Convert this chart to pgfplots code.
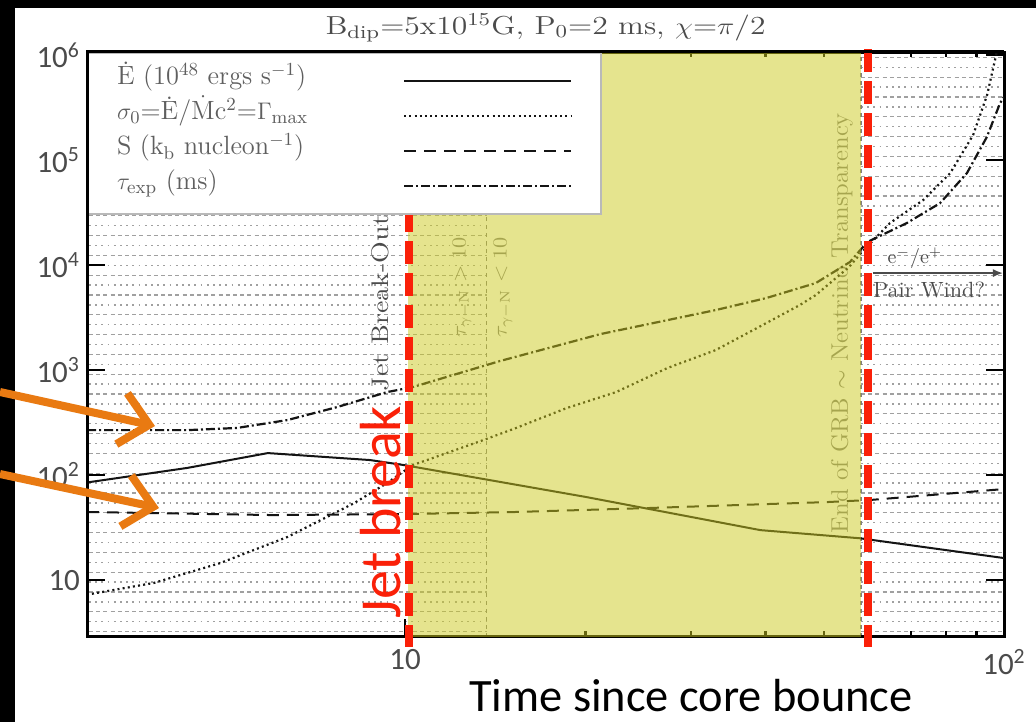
\documentclass[border=0pt]{standalone}
\usepackage{fontspec}
\usepackage{graphicx}
\usepackage{pgfplots}
\usepackage{pgfplotstable}
\pgfplotsset{compat=1.18}
\usetikzlibrary{arrows.meta}
\newfontfamily\calibri{Carlito}
\definecolor{yel}{RGB}{205,202,30}
\definecolor{redl}{RGB}{250,32,8}
\definecolor{orng}{RGB}{233,122,18}
\definecolor{txtg}{RGB}{75,75,75}
\definecolor{lgtxt}{RGB}{95,95,95}
\definecolor{lnk}{RGB}{20,20,20}
\definecolor{hatchc}{RGB}{160,160,160}
\newcommand\ws[1]{\addfontfeature{LetterSpace=#1}}
\newcommand\wide[2]{\resizebox{#1}{\height}{#2}}

\pgfplotstableread{
t v
2.944 85
4.33 117
5.9 162
8.74 139
10 124
20 62
39.2 29.9
57.5 25
100 16.2
}\tEdot

\pgfplotstableread{
t v
3.0 7.4
3.81 9.4
4.91 14.5
6.36 25.7
8.22 54
9.33 84
10.3 124.5
13.5 215
15.3 280
18.6 434
22.5 617
27.4 1045
33.0 1549
40.1 2806
45.6 4159
48.5 5180
55.1 9570
57.9 13300
64.5 25100
73.3 41600
81.3 75100
88.8 173000
93.7 416000
97.0 1000000
100 2000000
}\tSig

\pgfplotstableread{
t v
2.944 44.5
6 41.6
10 42.5
15.3 44.5
25.4 48.5
50.6 55.3
60 58
100 73.6
}\tS

\pgfplotstableread{
t v
2.944 268
4.33 268
5.24 281
6.36 334
7.70 444
9.33 617
10.3 689
14.4 1219
21.2 2203
33.0 3728
40.1 4853
48.5 6740
55.3 10690
59.1 16560
68.8 25100
78.2 38900
86.7 75100
93.6 165600
98.5 349000
100 400000
}\tTau

\begin{document}
\begin{tikzpicture}
\useasboundingbox (0,0) rectangle (518pt,-361pt);
\fill[white] (0,0) rectangle (518pt,-361pt);
\fill[black] (0,0) rectangle (7.5pt,-361pt);
\fill[black] (0,0) rectangle (518pt,-4pt);
% background hatching of the original figure
\foreach \k in {0,...,58}{
  \pgfmathsetmacro\yy{-318.25+2.45+4.95*\k}
  \ifodd\k
    \draw[hatchc, line width=0.7pt, dash pattern=on 0.9pt off 2.2pt] (44.5pt,\yy pt) -- (243.4pt,\yy pt) (430.5pt,\yy pt) -- (501pt,\yy pt);
  \else
    \draw[hatchc, line width=0.6pt, dash pattern=on 2pt off 1.6pt] (44.5pt,\yy pt) -- (243.4pt,\yy pt) (430.5pt,\yy pt) -- (501pt,\yy pt);
  \fi
}
\draw[gray, line width=0.6pt, dash pattern=on 2pt off 2pt] (243.4pt,-318.25pt) -- (243.4pt,-26pt);
\draw[gray, line width=0.6pt, dash pattern=on 2pt off 2pt] (430.5pt,-318.25pt) -- (430.5pt,-26pt);

\begin{axis}[
  at={(43.5pt,-318.25pt)}, anchor=south west,
  scale only axis, width=458.5pt, height=292.25pt,
  xmode=log, ymode=log,
  xmin=2.944, xmax=100, ymin=2.9, ymax=1.07e6,
  clip mode=individual,
  axis line style={line width=1.5pt, black},
  tick align=inside,
  tick style={line width=1.2pt, black},
  major tick length=9pt, minor tick length=2.6pt,
  yminorticks=false,
  xtick={10,100}, xticklabels={10,10\textsuperscript{2}},
  ytick={10,100,1000,10000,100000,1000000},
  yticklabels={10,10\textsuperscript{2},10\textsuperscript{3},10\textsuperscript{4},10\textsuperscript{5},10\textsuperscript{6}},
  tick label style={font=\calibri\fontsize{15.5}{18}\selectfont, text=txtg},
  xticklabel style={yshift=-3pt},
  title={\wide{220pt}{B\textsubscript{dip}=5x10\textsuperscript{15}G, P\textsubscript{0}=2 ms, $\chi$=$\pi$/2}},
  title style={at={(0.5,1)}, anchor=base, yshift=3pt, text=txtg, font=\fontsize{13}{15}\selectfont},
  legend style={at={(0,1)}, anchor=north west, draw=gray!55, line width=1pt, fill=white,
    inner xsep=14.5pt, inner ysep=5.25pt, row sep=0pt, column sep=0pt,
    nodes={inner sep=0pt, text height=10.5pt, text depth=7pt, font=\fontsize{13.2}{15}\selectfont\ws{18}, text=lgtxt}},
  legend plot pos=right,
  legend cell align=left,
  legend image code/.code={\draw[#1] (0pt,0pt) -- (83.5pt,0pt);},
]
% annotations of the original figure
\node[rotate=90, text=txtg, font=\fontsize{12}{14}\selectfont] at (axis cs:9.08,4345) {\wide{88pt}{Jet Break-Out}};
\node[rotate=90, text=gray, font=\fontsize{10}{12}\selectfont] at (axis cs:12.45,6170) {\wide{50pt}{$\tau_{\gamma-\mathrm{N}} > 10$}};
\node[rotate=90, text=gray, font=\fontsize{10}{12}\selectfont] at (axis cs:14.57,6170) {\wide{50pt}{$\tau_{\gamma-\mathrm{N}} < 10$}};
\node[rotate=90, text=gray, font=\fontsize{12}{14}\selectfont] at (axis cs:53.6,2805) {\wide{210pt}{End of GRB $\sim$ Neutrino Transparency}};
\node[text=txtg, font=\fontsize{10}{12}\selectfont] at (axis cs:71,11660) {e$^-$/e$^+$};
\draw[-{Latex[length=5pt,width=4pt]}, line width=0.8pt, txtg] (axis cs:60.4,8393) -- (axis cs:99.6,8393);
\node[text=txtg, font=\fontsize{11}{13}\selectfont] at (axis cs:74.97,5780) {\wide{56pt}{Pair Wind?}};

\addplot[lnk, line width=1pt] table {\tEdot};
\addlegendentry{\makebox[143pt][l]{\.{E} (10\textsuperscript{48} ergs s\textsuperscript{$-$1})}}
\addplot[lnk, line width=1.1pt, dash pattern=on 1pt off 1.6pt] table {\tSig};
\addlegendentry{\makebox[143pt][l]{$\sigma_0$=\.{E}/$\dot{\mathrm{M}}$c\textsuperscript{2}=$\Gamma_{\mathrm{max}}$}}
\addplot[lnk, line width=1pt, dash pattern=on 6pt off 4pt] table {\tS};
\addlegendentry{\makebox[143pt][l]{S (k\textsubscript{b} nucleon\textsuperscript{$-$1})}}
\addplot[lnk, line width=1.1pt, dash pattern=on 4.5pt off 1.5pt on 1pt off 1.5pt] table {\tTau};
\addlegendentry{\makebox[143pt][l]{$\tau_{\mathrm{exp}}$ (ms)}}

% yellow highlight
\addplot[draw=none, fill=yel, fill opacity=0.5, forget plot] coordinates {(10.1,2.9) (57.7,2.9) (57.7,1.07e6) (10.1,1.07e6)};
% red dashed markers
\draw[redl, line width=3.7pt, dash pattern=on 11.5pt off 4.5pt] (axis cs:10.15,34140) -- (axis cs:10.15,2.3);
\draw[redl, line width=3.7pt, dash pattern=on 11.5pt off 4.5pt] (axis cs:59.3,1.14e6) -- (axis cs:59.3,2.3);
\node[rotate=90, anchor=base, text=redl, font=\calibri\fontsize{29}{30}\selectfont] at (axis cs:9.81,44.5) {Jet break};
\end{axis}
\draw[black, line width=1.5pt] (43.5pt,-318.25pt) -- (43.5pt,-26pt) -- (502pt,-26pt);
\begin{scope}[x=0.5pt, y=-0.5pt]
\draw[orng, line width=4pt, -{Straight Barb[length=14pt,width=26pt]}] (0,392) -- (155,426);
\draw[orng, line width=4pt, -{Straight Barb[length=14pt,width=26pt]}] (0,474) -- (159,508);
\node[anchor=base, inner sep=0pt, font=\calibri\fontsize{23.2}{26}\selectfont] at (691,711) {Time since core bounce};
\end{scope}
\end{tikzpicture}
\end{document}
